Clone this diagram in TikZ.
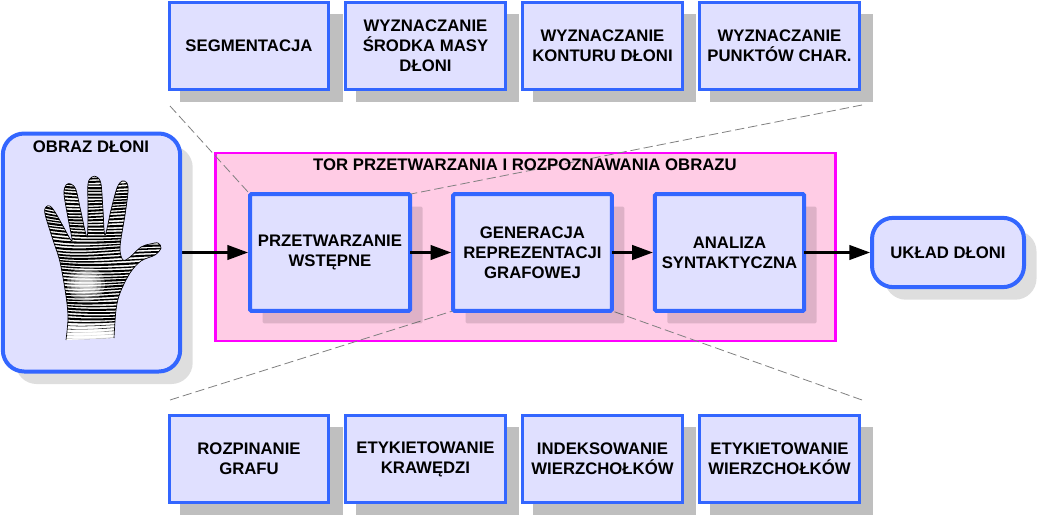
\documentclass[tikz,border=0pt]{standalone}
\usepackage{fontspec}
\setmainfont{Liberation Sans}
\usepackage{pgf,tikz}
\usetikzlibrary{arrows.meta}
\usetikzlibrary{shadows}
\usetikzlibrary{backgrounds}

\begin{document}
\begin{tikzpicture}[x=0.75pt,y=-0.75pt]

\definecolor{boxfill}{HTML}{E0E0FF}
\definecolor{boxline}{HTML}{3366FF}
\definecolor{torfill}{HTML}{FFCCE5}
\definecolor{torline}{HTML}{FF00FF}
\definecolor{dashgray}{HTML}{808080}

\tikzset{
  txt/.style={font=\fontsize{12.55}{15}\selectfont\bfseries, align=center, text=black},
  % small boxes in the upper and lower row
  smallbox/.style={txt, draw=boxline, fill=boxfill, line width=2.25pt, inner sep=0pt, outer sep=0pt,
    minimum width=119.6pt, minimum height=65pt,
    drop shadow={fill=black, opacity=.25, shadow xshift=9pt, shadow yshift=-9pt, shadow scale=1.02}},
  % boxes of the main path
  bigbox/.style={txt, draw=boxline, fill=boxfill, line width=3pt, inner sep=0pt, outer sep=0pt,
    rounded corners=1pt, minimum height=87.5pt,
    drop shadow={fill=black, opacity=.13, shadow xshift=9.4pt, shadow yshift=-9.4pt}},
  roundbox/.style={bigbox, rounded corners=16pt},
  conn/.style={line width=1.6pt, black, -{Triangle[length=15.5pt,width=11pt]}},
  zoomline/.style={dashgray, line width=0.6pt, dash pattern=on 7pt off 3pt},
}

\useasboundingbox (0,0) rectangle (1039,517);

\begin{pgfonlayer}{background}
\node [draw=torline, fill=torfill, line width=2pt, outer sep=0pt, inner sep=0pt,
  minimum width=465pt, minimum height=141pt] (tor) at (525.5,247) {};
\end{pgfonlayer}
\node [txt] (tortitle) at (525,165) {TOR PRZETWARZANIA I ROZPOZNAWANIA OBRAZU};

\node [roundbox, minimum width=133pt, minimum height=178.5pt] (obraz) at (91.5,252.5) {};
\node [txt] (obraztitle) at (91,147) {OBRAZ DŁONI};
\node [roundbox, minimum width=114pt, minimum height=52pt] (uklad) at (948,252.5) {UKŁAD DŁONI};

\node [bigbox, minimum width=120pt] (przetw) at (330,252.5) {PRZETWARZANIE\\WSTĘPNE};
\node [bigbox, minimum width=119pt] (gener) at (532.5,252.5) {GENERACJA\\REPREZENTACJI\\GRAFOWEJ};
\node [bigbox, minimum width=112pt] (analiza) at (729.5,252.5) {ANALIZA\\SYNTAKTYCZNA};

\node [smallbox] (segm) at (249,46) {SEGMENTACJA};
\node [smallbox] (srodek) at (425.5,46) {WYZNACZANIE\\ŚRODKA MASY\\DŁONI};
\node [smallbox] (kontur) at (602.5,46) {WYZNACZANIE\\KONTURU DŁONI};
\node [smallbox] (punkty) at (779.5,46) {WYZNACZANIE\\PUNKTÓW CHAR.};

\node [smallbox] (rozpin) at (249,459) {ROZPINANIE\\GRAFU};
\node [smallbox] (krawedz) at (425.5,459) {ETYKIETOWANIE\\KRAWĘDZI};
\node [smallbox] (indeks) at (602.5,459) {INDEKSOWANIE\\WIERZCHOŁKÓW};
\node [smallbox] (wierzch) at (779.5,459) {ETYKIETOWANIE\\WIERZCHOŁKÓW};

\coordinate (topleft) at (170,106);
\coordinate (topright) at (862,105);
\coordinate (botleft) at (170,400);
\coordinate (botright) at (862,400);

% these stay under the boxes and their shadows
\begin{pgfonlayer}{background}
\draw [zoomline] (topleft) -- (przetw.north west);
\draw [zoomline] (topright) -- (przetw.north east);
\draw [zoomline] (botleft) -- (gener.south west);
\draw [zoomline] (botright) -- (gener.south east);
\draw [conn, shorten >=1.5pt] (obraz.east) -- (przetw.west);
\end{pgfonlayer}

\draw [conn, shorten >=1.5pt] (przetw.east) -- (gener.west);
\draw [conn, shorten >=1.5pt] (gener.east) -- (analiza.west);
\draw [conn, shorten >=1.5pt] (analiza.east) -- (uklad.west);

% the hand
\def\handoutline{plot [smooth, tension=.55] coordinates {
  (66,340) (68,318) (66,296) (60,262) (53,240) (45,214) (46,207) (50,206) (55,212) (63,226) (72,241)
  (68,218) (64,194) (66,185) (71,184) (76,190) (81,212) (87,237)
  (88,210) (88,184) (92,177) (97,177) (101,184) (103,210) (105,235)
  (111,210) (117,188) (122,181) (127,183) (128,192) (125,215) (120,247) (123,260)
  (130,257) (141,247) (150,244) (158,243) (161,248) (155,255) (141,261) (130,273) (120,293) (116,310) (114,338)}}
\begin{scope}
\clip \handoutline;
\fill [white] (40,170) rectangle (170,345);
\foreach \yy in {176,179.2,...,340} {
  \pgfmathsetmacro{\lw}{(\yy<322 ? 1.3 : 0.4)+(\yy<322 ? 0.3*sin(\yy*47) : 0)}
  \pgfmathsetmacro{\bend}{2.5*sin(\yy*9)}
  \draw [black, line width=\lw pt] (40,\yy-2) .. controls (75,\yy+6+\bend) and (105,\yy+2-\bend) .. (165,\yy-1);
}
\foreach \rr in {1,.8,.6,.4} {
  \fill [white, opacity=.3] (86,284) ellipse [x radius=19*\rr, y radius=17*\rr];
}
\foreach \rr in {1,.8,.6} {
  \fill [white, opacity=.5] (90,338) ellipse [x radius=30*\rr, y radius=10*\rr];
}
\end{scope}
\draw [black, line width=0.5pt] \handoutline;

\end{tikzpicture}
\end{document}
